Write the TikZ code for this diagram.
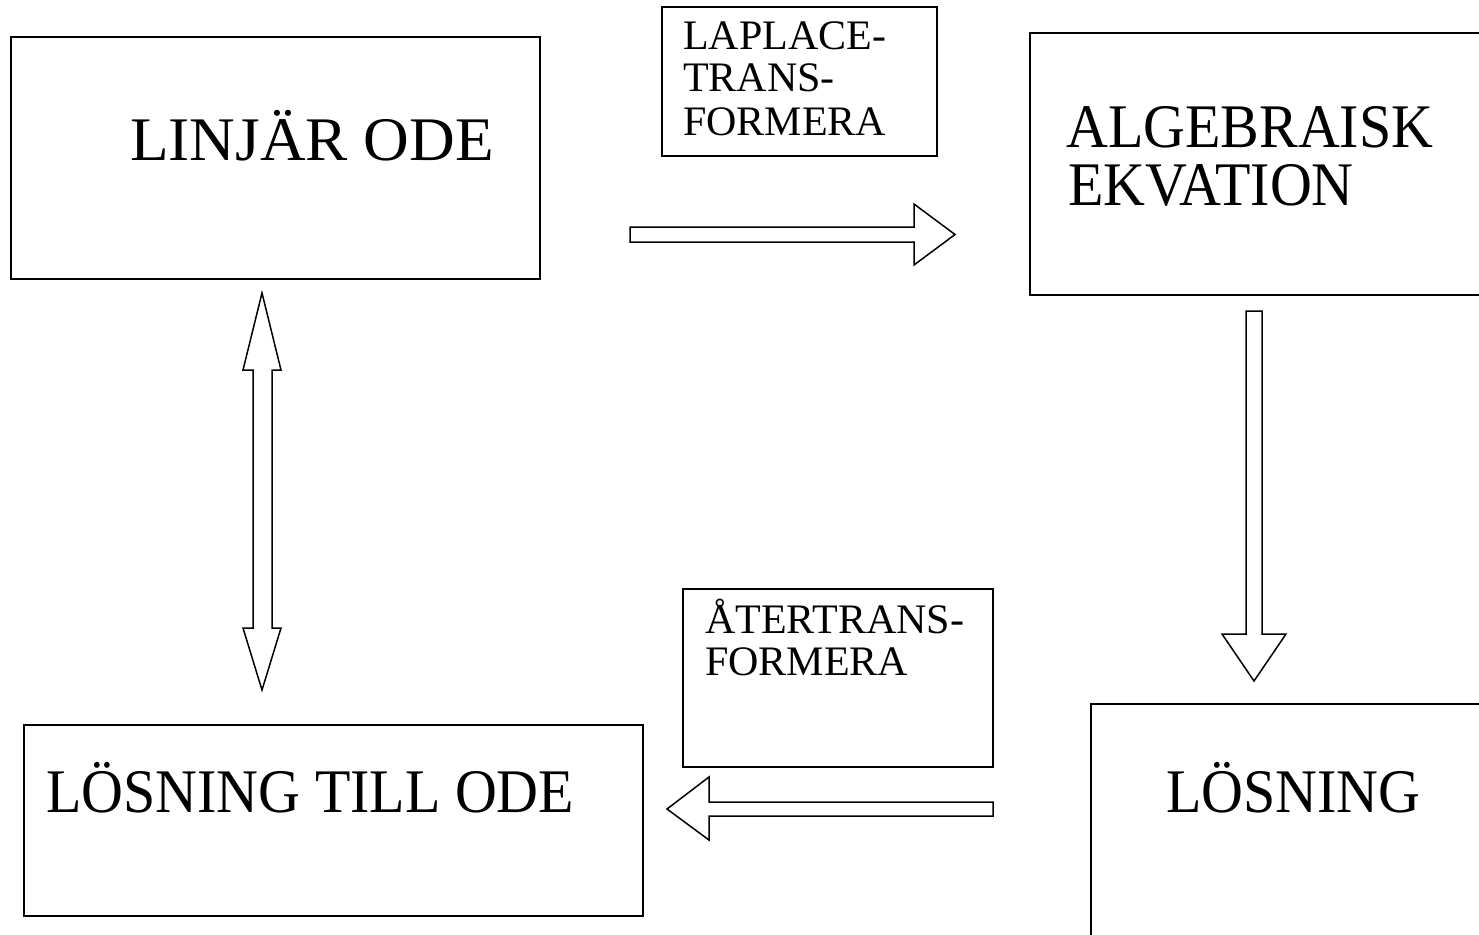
\documentclass[tikz,border=0pt]{standalone}
\usepackage{fontspec}
\setmainfont{Liberation Serif}
\newcommand{\narrowtxt}[1]{\scalebox{0.935}[1]{#1}}
\tikzset{
  box/.style={draw, line width=1.5pt, anchor=north west, inner sep=0pt, outer sep=0pt},
  bigtxt/.style={anchor=base west, inner sep=0pt, font=\fontsize{62}{54}\selectfont, align=left},
  smalltxt/.style={anchor=base west, inner sep=0pt, font=\fontsize{42}{43}\selectfont, align=left},
  blockarrow/.style={draw, line width=1.5pt, line join=miter, fill=white},
}
\begin{document}
\begin{tikzpicture}[x=1pt,y=-1pt]
\useasboundingbox (0,0) rectangle (1479,934);
\clip (0,0) rectangle (1479,934);
% boxes
\node[box, minimum width=529pt, minimum height=242pt] (ode) at (11,37) {};
\node[box, minimum width=275pt, minimum height=149pt] (lap) at (662,7) {};
\node[box, minimum width=480pt, minimum height=262pt] (alg) at (1030,33) {};
\node[box, minimum width=420pt, minimum height=260pt] (los) at (1091,704) {};
\node[box, minimum width=619pt, minimum height=191pt] (lto) at (24,725) {};
\node[box, minimum width=310pt, minimum height=178pt] (ater) at (683,589) {};
% texts
\node[bigtxt] (t1) at (130,160) {\scalebox{1.02}[1]{LINJÄR ODE}};
\node[smalltxt] (t2) at (683,49) {LAPLACE-};
\node[smalltxt] (t3) at (683,92) {TRANS-};
\node[smalltxt] (t4) at (683,135) {FORMERA};
\node[bigtxt] (t5) at (1066,147) {\narrowtxt{ALGEBRAISK}};
\node[bigtxt] (t6) at (1068,205) {\narrowtxt{EKVATION}};
\node[bigtxt] (t7) at (1166,812) {\narrowtxt{LÖSNING}};
\node[bigtxt] (t8) at (46,812) {\narrowtxt{LÖSNING TILL ODE}};
\node[smalltxt] (t9) at (705,633) {ÅTERTRANS-};
\node[smalltxt] (t10) at (705,675) {FORMERA};
% block arrows
\draw[blockarrow] (630,227) -- (914,227) -- (914,204) -- (955,234.5) -- (914,265) -- (914,242) -- (630,242) -- cycle;
\draw[blockarrow] (1246,311) -- (1262,311) -- (1262,634) -- (1286,634) -- (1254,681) -- (1222,634) -- (1246,634) -- cycle;
\draw[blockarrow] (993,802) -- (709,802) -- (709,777) -- (667,809) -- (709,840) -- (709,816) -- (993,816) -- cycle;
\draw[blockarrow] (262,293) -- (281,370) -- (272,370) -- (272,628) -- (281,628) -- (262,690) -- (243,628) -- (253,628) -- (253,370) -- (243,370) -- cycle;
\end{tikzpicture}
\end{document}
